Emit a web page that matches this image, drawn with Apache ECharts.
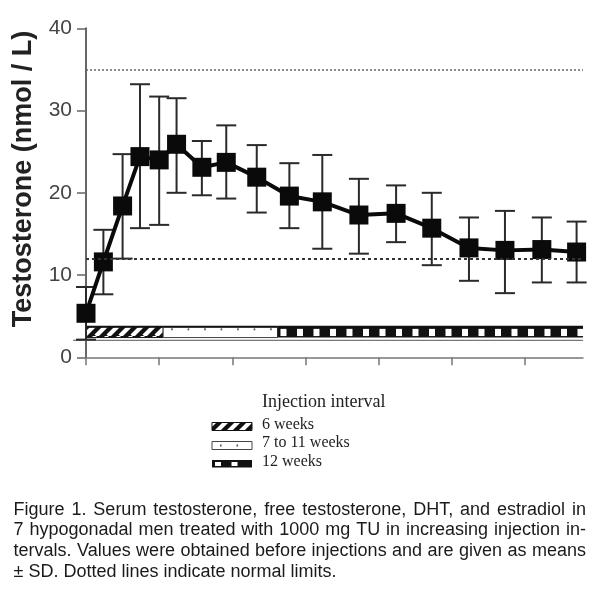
<!DOCTYPE html>
<html><head><meta charset="utf-8">
<script src="https://cdn.jsdelivr.net/npm/echarts@6/dist/echarts.min.js"></script>
<style>html,body{margin:0;padding:0;background:#fff}#c{width:600px;height:593px}</style>
</head><body><div id="c"></div>
<script>
// ---- data ----
const weeks  = [0, 5.7, 12, 17.7, 24, 29.7, 38, 46, 56, 66.7, 77.5, 89.5, 101.7, 113.4, 125.6, 137.4, 149.5, 160.9];
const meanT  = [5.35, 11.6, 18.4, 24.4, 24.0, 25.9, 23.1, 23.7, 21.9, 19.6, 18.9, 17.3, 17.5, 15.7, 13.3, 13.0, 13.1, 12.8];
const upperT = [8.55, 15.5, 24.7, 33.2, 31.7, 31.5, 26.3, 28.2, 25.8, 23.6, 24.6, 21.7, 20.9, 20.0, 17.0, 17.8, 17.0, 16.5];
const lowerT = [2.15, 7.66, 12.0, 15.7, 16.1, 20.0, 19.7, 19.3, 17.6, 15.7, 13.2, 12.6, 14.0, 11.2, 9.3, 7.8, 9.1, 9.1];
const normalLimits = [35, 12];
const yTickValues = [0, 10, 20, 30, 40];
const xTickValues = [0, 24, 48, 72, 96, 120, 144];
const intervalNames = ['6 weeks', '7 to 11 weeks', '12 weeks'];
const intervalStart = [0, 25.3, 62.8];
const intervalEnd   = [25.3, 62.8, 163];
const yAxisTitle = 'Testosterone (nmol / L)';
const legendTitle = 'Injection interval';
const captionLines = [
  'Figure 1.  Serum testosterone, free testosterone, DHT, and estradiol in',
  '7 hypogonadal men treated with 1000 mg TU in increasing injection in-',
  'tervals. Values were obtained before injections and are given as means',
  '\u00B1 SD. Dotted lines indicate normal limits.'
];

// ---- patterns ----
function makeHatch() {
  const s = 12, c = document.createElement('canvas');
  c.width = s; c.height = s;
  const g = c.getContext('2d');
  g.fillStyle = '#111'; g.fillRect(0, 0, s, s);
  g.strokeStyle = '#fff'; g.lineWidth = 4.2;
  g.beginPath();
  for (let k = -1; k <= 1; k++) { g.moveTo(k * s, s); g.lineTo(k * s + s, 0); }
  g.stroke();
  return c;
}
const hatch = { image: makeHatch(), repeat: 'repeat' };

function bandShapes(kind, x0, y0, x1, y1) {
  const w = x1 - x0, h = y1 - y0, ch = [];
  if (kind === 0) {
    ch.push({ type: 'rect', shape: { x: x0, y: y0, width: w, height: h }, style: { fill: hatch, stroke: '#111', lineWidth: 1 } });
  } else if (kind === 1) {
    ch.push({ type: 'rect', shape: { x: x0, y: y0, width: w, height: h }, style: { fill: '#fff', stroke: '#444', lineWidth: 1 } });
    for (let x = x0 + 8; x < x1 - 4; x += 16.5)
      ch.push({ type: 'rect', shape: { x: x, y: y0 + (h > 9 ? 1.5 : h / 2 - 1), width: 1.6, height: 2 }, style: { fill: '#555' } });
  } else {
    ch.push({ type: 'rect', shape: { x: x0, y: y0, width: w, height: h }, style: { fill: '#111' } });
    for (let x = x0 + 3; x < x1 - 5; x += 16.5)
      ch.push({ type: 'rect', shape: { x: x, y: y0 + 2, width: 6, height: h - 3.5 }, style: { fill: '#fff' } });
  }
  return ch;
}

function renderBand(params, api) {
  const s = api.value(0), e = api.value(1), k = api.value(2);
  const p0 = api.coord([s, 3.7]);
  const p1 = api.coord([e, 2.4]);
  const ch = bandShapes(k, p0[0], p0[1], p1[0], p1[1]);
  ch.push({ type: 'line', shape: { x1: p0[0], y1: p0[1], x2: p1[0], y2: p0[1] }, style: { stroke: '#111', lineWidth: 2 } });
  if (k === 0) {
    const b = api.coord([0, 2.05]);
    const r = api.coord([163, 2.05]);
    ch.push({ type: 'line', shape: { x1: b[0] - 13, y1: b[1], x2: r[0], y2: b[1] }, style: { stroke: '#777', lineWidth: 1.2 } });
  }
  return { type: 'group', children: ch };
}

function renderErr(params, api) {
  const x = api.value(0);
  const top = api.coord([x, api.value(2)]);
  const bot = api.coord([x, api.value(1)]);
  const hw = 10;
  const st = { stroke: '#2a2a2a', lineWidth: 2 };
  return { type: 'group', children: [
    { type: 'line', shape: { x1: top[0], y1: top[1], x2: bot[0], y2: bot[1] }, style: st },
    { type: 'line', shape: { x1: top[0] - hw, y1: top[1], x2: top[0] + hw, y2: top[1] }, style: st },
    { type: 'line', shape: { x1: bot[0] - hw, y1: bot[1], x2: bot[0] + hw, y2: bot[1] }, style: st }
  ] };
}

// ---- caption (justified by word placement) ----
const capFont = '18px "Liberation Sans", Arial, sans-serif';
const mctx = document.createElement('canvas').getContext('2d');
mctx.font = capFont;
const capLeft = 13.5, capRight = 586, capBaselines = [516, 536.5, 557, 578];
const graphics = [];
captionLines.forEach((line, i) => {
  const cy = capBaselines[i] - 6.3;
  if (i === captionLines.length - 1) {
    graphics.push({ type: 'text', x: capLeft, y: cy, style: { text: line, font: capFont, fill: '#1a1a1a', textVerticalAlign: 'middle' } });
    return;
  }
  const words = line.split(/ +/);
  const widths = words.map(w => mctx.measureText(w).width);
  const total = widths.reduce((a, b) => a + b, 0);
  const gap = (capRight - capLeft - total) / (words.length - 1);
  let x = capLeft;
  words.forEach((w, j) => {
    graphics.push({ type: 'text', x: x, y: cy, style: { text: w, font: capFont, fill: '#1a1a1a', textVerticalAlign: 'middle' } });
    x += widths[j] + gap;
  });
});

// y axis title
graphics.push({ type: 'text', x: 24, y: 179, rotation: Math.PI / 2,
  style: { text: yAxisTitle, font: 'bold 27px "Liberation Sans", Arial, sans-serif', fill: '#222', textAlign: 'center', textVerticalAlign: 'middle' } });

// legend
const serif = '"Liberation Serif", "Times New Roman", serif';
graphics.push({ type: 'text', x: 262, y: 402.3, style: { text: legendTitle, font: '18px ' + serif, fill: '#222', textVerticalAlign: 'middle' } });
const legY = [[422.5, 430.5, 424.7], [441.5, 449.5, 443], [460, 467.5, 462]];
intervalNames.forEach((nm, i) => {
  const r = legY[i];
  const ch = bandShapes(i, 212, r[0], 252, r[1]);
  if (i === 0) ch.forEach(c => { c.style.stroke = '#111'; });
  ch.forEach(c => graphics.push(c));
  graphics.push({ type: 'text', x: 262, y: r[2], style: { text: nm, font: '16px ' + serif, fill: '#222', textVerticalAlign: 'middle' } });
});

const chart = echarts.init(document.getElementById('c'), null, { renderer: 'canvas' });
chart.setOption({
  animation: false,
  backgroundColor: '#fff',
  grid: { left: 86, right: 17, top: 28.3, bottom: 235.7, containLabel: false },
  xAxis: {
    type: 'value', min: 0, max: 163,
    axisLine: { show: true, lineStyle: { color: '#777', width: 1.5 } },
    axisTick: { show: true, length: 8, customValues: xTickValues, lineStyle: { color: '#777', width: 1.5 } },
    axisLabel: { show: false },
    splitLine: { show: false }
  },
  yAxis: {
    type: 'value', min: 0, max: 40, interval: 10,
    axisLine: { show: true, lineStyle: { color: '#666', width: 2 } },
    axisTick: { show: true, length: 9, customValues: yTickValues, lineStyle: { color: '#666', width: 1.5 } },
    axisLabel: { show: true, margin: 14, customValues: yTickValues, color: '#444', fontSize: 21, fontFamily: '"Liberation Sans", Arial, sans-serif' },
    splitLine: { show: false }
  },
  graphic: graphics,
  series: [
    {
      type: 'custom', renderItem: renderBand, silent: true, z: 1,
      data: intervalStart.map((s, i) => [s, intervalEnd[i], i]),
      clip: false
    },
    {
      type: 'custom', renderItem: renderErr, silent: true, z: 2,
      data: weeks.map((w, i) => [w, lowerT[i], upperT[i]]),
      clip: false
    },
    {
      type: 'line', z: 3,
      data: weeks.map((w, i) => [w, meanT[i]]),
      symbol: 'rect', symbolSize: 19,
      itemStyle: { color: '#0a0a0a' },
      lineStyle: { color: '#0a0a0a', width: 4 },
      markLine: {
        silent: true, symbol: 'none', label: { show: false },
        data: [
          { yAxis: normalLimits[0], lineStyle: { type: [2, 2], color: '#666', width: 1.5 } },
          { yAxis: normalLimits[1], lineStyle: { type: [3, 3], color: '#333', width: 2 } }
        ]
      }
    }
  ]
});
</script>
</body></html>
